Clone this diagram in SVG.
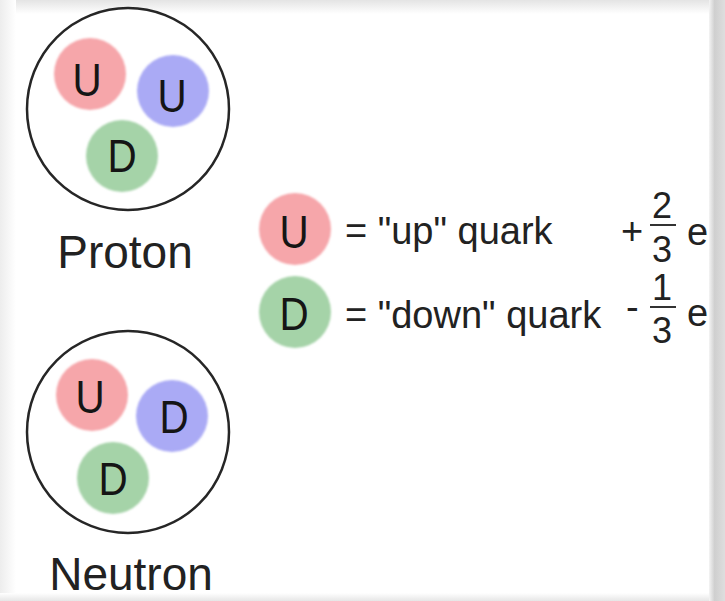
<svg xmlns="http://www.w3.org/2000/svg" width="725" height="601" viewBox="0 0 725 601">
<defs>
<linearGradient id="gTop" x1="0" y1="0" x2="0" y2="1"><stop offset="0" stop-color="#e4e4e4"/><stop offset="1" stop-color="#ffffff"/></linearGradient>
<linearGradient id="gLeft" x1="0" y1="0" x2="1" y2="0"><stop offset="0" stop-color="#ededed"/><stop offset="1" stop-color="#ffffff"/></linearGradient>
<linearGradient id="gRight" x1="0" y1="0" x2="1" y2="0"><stop offset="0" stop-color="#f4f4f4"/><stop offset="0.35" stop-color="#cfcfcf"/><stop offset="1" stop-color="#dedede"/></linearGradient>
<linearGradient id="gBot" x1="0" y1="0" x2="0" y2="1"><stop offset="0" stop-color="#ffffff"/><stop offset="1" stop-color="#e6e6e6"/></linearGradient>
<filter id="soft" x="-20%" y="-20%" width="140%" height="140%"><feGaussianBlur stdDeviation="1.2"/></filter>
</defs>
<style>
.shell{fill:#ffffff;stroke:#262626;stroke-width:2.5}
.red{fill:#f6a6aa}
.blue{fill:#aaaaf5}
.green{fill:#a5d3a8}
.q{font-family:"Liberation Sans",Arial,sans-serif;font-size:47px;fill:#151515;text-anchor:middle}
.lbl{font-family:"Liberation Sans",Arial,sans-serif;font-size:46px;fill:#222;text-anchor:middle}
.txt{font-family:"Liberation Sans",Arial,sans-serif;font-size:38px;fill:#222}
.num{font-family:"Liberation Sans",Arial,sans-serif;font-size:36px;fill:#222;text-anchor:middle}
.bar{stroke:#333;stroke-width:2}
</style>
<rect width="725" height="601" fill="#ffffff"/>
<rect x="0" y="0" width="725" height="14" fill="url(#gTop)"/>
<rect x="0" y="0" width="16" height="601" fill="url(#gLeft)"/>
<rect x="0" y="593" width="725" height="8" fill="url(#gBot)"/>
<rect x="709" y="0" width="16" height="601" fill="url(#gRight)"/>

<g id="proton">
<circle class="shell" cx="128" cy="109" r="101"/>
<circle class="red" cx="90" cy="74" r="36" filter="url(#soft)"/>
<circle class="blue" cx="173" cy="91" r="36" filter="url(#soft)"/>
<circle class="green" cx="122" cy="156" r="36" filter="url(#soft)"/>
<text class="q" transform="translate(87,96) scale(0.86,1)">U</text>
<text class="q" transform="translate(172,112) scale(0.86,1)">U</text>
<text class="q" transform="translate(122,172) scale(0.86,1)">D</text>
<text class="lbl" x="125" y="268">Proton</text>
</g>

<g id="neutron">
<circle class="shell" cx="128" cy="432" r="101"/>
<circle class="red" cx="92" cy="395" r="36" filter="url(#soft)"/>
<circle class="blue" cx="172" cy="416" r="36" filter="url(#soft)"/>
<circle class="green" cx="113" cy="478" r="36" filter="url(#soft)"/>
<text class="q" transform="translate(90,413) scale(0.86,1)">U</text>
<text class="q" transform="translate(174,433) scale(0.86,1)">D</text>
<text class="q" transform="translate(113,495) scale(0.86,1)">D</text>
<text class="lbl" x="131" y="590">Neutron</text>
</g>

<g id="legend-up">
<circle class="red" cx="295" cy="229" r="36" filter="url(#soft)"/>
<text class="q" transform="translate(294,248) scale(0.86,1)">U</text>
<text class="txt" x="345" y="244">= "up" quark</text>
<text class="txt" x="621" y="244">+</text>
<text class="num" x="662" y="218">2</text>
<line class="bar" x1="650" y1="225" x2="676" y2="225"/>
<text class="num" x="662" y="262">3</text>
<text class="txt" x="687" y="245">e</text>
</g>

<g id="legend-down">
<circle class="green" cx="295" cy="312" r="36" filter="url(#soft)"/>
<text class="q" transform="translate(294,330) scale(0.86,1)">D</text>
<text class="txt" x="345" y="328">= "down" quark</text>
<text class="txt" x="626" y="320">-</text>
<text class="num" x="662" y="300">1</text>
<line class="bar" x1="650" y1="307" x2="676" y2="307"/>
<text class="num" x="662" y="343">3</text>
<text class="txt" x="687" y="326">e</text>
</g>
</svg>
